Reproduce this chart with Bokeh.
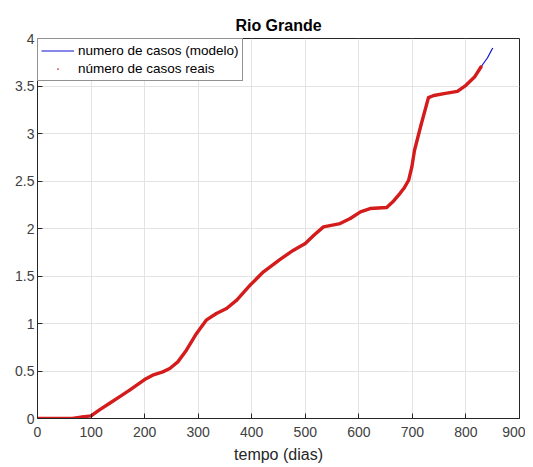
from bokeh.plotting import figure
from bokeh.models import FixedTicker, Legend, LegendItem, Label, Range1d
from bokeh.embed import file_html
from bokeh.resources import INLINE

# ---- data ----
dias_reais = [0, 20, 40, 65, 84, 100, 115, 134, 153, 172, 200, 215, 234, 247, 262, 278,
              297, 315, 334, 353, 372, 397, 422, 453, 478, 500, 516, 534, 565, 584, 603,
              621, 652, 665, 677, 685, 693, 699, 704, 716, 730, 740, 759, 784, 800, 816, 828]
casos_reais = [0, 0, 0, 0, 175, 280, 880, 1580, 2280, 2980, 4100, 4560, 4910, 5260, 5960, 7190,
               8950, 10350, 11050, 11580, 12460, 14040, 15440, 16750, 17720, 18420, 19290, 20170,
               20520, 21050, 21750, 22100, 22210, 22900, 23700, 24300, 25080, 26480, 28240, 30870,
               33780, 34000, 34200, 34440, 35070, 35940, 37000]

dias_modelo = dias_reais + [840, 850]
casos_modelo = casos_reais + [37950, 39000]

x_ticks = [0, 100, 200, 300, 400, 500, 600, 700, 800, 900]
y_ticks = [0, 5000, 10000, 15000, 20000, 25000, 30000, 35000, 40000]
y_tick_labels = ["0", "0.5", "1", "1.5", "2", "2.5", "3", "3.5", "4"]

FONT = "Liberation Sans"
TXT = "#262626"
GRID = "#e3e3e3"

p = figure(width=525, height=466, x_range=Range1d(0, 900), y_range=Range1d(0, 40000),
           output_backend="svg", toolbar_location=None,
           min_border_left=37, min_border_right=6, min_border_top=38, min_border_bottom=48,
           background_fill_color="white", border_fill_color="white")

p.title.text = "Rio Grande"
p.title.text_font = FONT
p.title.text_font_size = "16px"
p.title.text_font_style = "bold"
p.title.align = "center"
p.title.text_color = "#000000"
p.title.standoff = 10

p.outline_line_color = TXT
p.outline_line_width = 1

for ax in (p.xaxis[0], p.yaxis[0]):
    ax.major_label_text_font = FONT
    ax.major_label_text_font_size = "14px"
    ax.major_label_text_color = "#404040"
    ax.axis_line_color = TXT
    ax.major_tick_line_color = TXT
    ax.major_tick_in = 5
    ax.major_tick_out = 0
    ax.minor_tick_line_color = None

p.xaxis[0].ticker = FixedTicker(ticks=x_ticks)
p.yaxis[0].ticker = FixedTicker(ticks=y_ticks)
p.yaxis[0].major_label_overrides = {t: l for t, l in zip(y_ticks, y_tick_labels)}
p.yaxis[0].major_label_standoff = 3
p.xaxis[0].major_label_standoff = 8
p.xaxis[0].axis_label = "tempo (dias)"
p.xaxis[0].axis_label_text_font = FONT
p.xaxis[0].axis_label_text_font_size = "16px"
p.xaxis[0].axis_label_text_font_style = "normal"
p.xaxis[0].axis_label_text_color = TXT
p.xaxis[0].axis_label_standoff = 6

p.xgrid.ticker = FixedTicker(ticks=x_ticks)
p.ygrid.ticker = FixedTicker(ticks=y_ticks)
p.grid.grid_line_color = GRID
p.grid.grid_line_width = 1

# series
r_modelo = p.line(dias_modelo, casos_modelo, line_color="#1010d0", line_width=1.2)
r_reais_line = p.line(dias_reais, casos_reais, line_color="#d41c1c", line_width=3.4,
                      line_join="round", line_cap="round")
r_reais = p.scatter(dias_reais, casos_reais, marker="dot", size=10, line_color="#d41c1c",
                    fill_color="#d41c1c")

legend = Legend(items=[LegendItem(label="numero de casos (modelo)", renderers=[r_modelo]),
                       LegendItem(label="número de casos reais", renderers=[r_reais])],
                location="top_left", margin=0, padding=3, spacing=1,
                label_text_font=FONT, label_text_font_size="13.5px", label_text_color="#000000",
                glyph_width=33, glyph_height=17, label_height=17, label_standoff=4,
                border_line_color=TXT, border_line_width=1,
                background_fill_color="white", background_fill_alpha=1)
p.add_layout(legend, "center")

# x10^4 exponent label
p.add_layout(Label(x=0, y=40000, text="×10", text_font=FONT, text_font_size="14px",
                   text_color="#404040", text_align="left", text_baseline="bottom",
                   x_offset=1, y_offset=1))
p.add_layout(Label(x=0, y=40000, text="4", text_font=FONT, text_font_size="10px",
                   text_color="#404040", text_align="left", text_baseline="bottom",
                   x_offset=26, y_offset=8))

open("out.html", "w").write(file_html(p, INLINE))
